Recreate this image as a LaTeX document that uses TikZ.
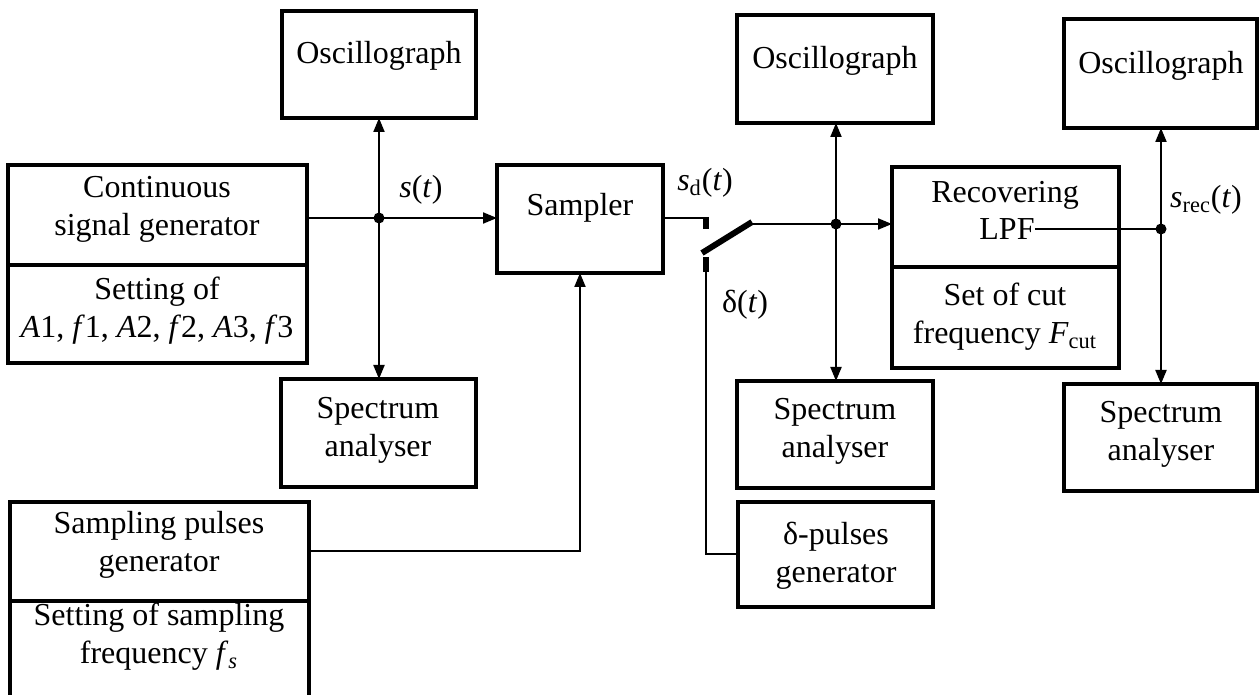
\documentclass[tikz,border=0pt]{standalone}
\usepackage{fontspec}
\setmainfont{Liberation Serif}
\usetikzlibrary{arrows.meta,fit}
\begin{document}
\begin{tikzpicture}[x=0.5pt,y=-0.5pt,
  box/.style={draw,line width=2.2pt,inner sep=0pt,outer sep=0pt},
  lbl/.style={align=center,font=\fontsize{16}{19}\selectfont,inner sep=0pt},
  wire/.style={line width=1pt},
  arr/.style={wire,-{Triangle[length=7pt,width=5.5pt]}},
  dot/.style={circle,fill,inner sep=0pt,minimum size=5.5pt},
  contact/.style={line width=3pt}]
\useasboundingbox (0,0) rectangle (1260,695);
% boxes
\node[box,fit={(282,11) (476,118)}] (osc1) {};
\node[box,fit={(737,15) (933,123)}] (osc2) {};
\node[box,fit={(1064,19) (1257,128)}] (osc3) {};
\node[box,fit={(8,165) (307,265)}] (csg) {};
\node[box,fit={(8,265) (307,363)}] (setA) {};
\node[box,fit={(497,165) (663,273)}] (sampler) {};
\node[box,fit={(892,167) (1119,267)}] (lpf) {};
\node[box,fit={(892,267) (1119,368)}] (fcut) {};
\node[box,fit={(281,379) (476,487)}] (sa1) {};
\node[box,fit={(737,381) (933,488)}] (sa2) {};
\node[box,fit={(1064,384) (1257,491)}] (sa3) {};
\node[box,fit={(738,502) (933,607)}] (delta) {};
\node[box,fit={(10,502) (309,601)}] (spg) {};
\coordinate (spgbl) at (10,695);
\coordinate (spgbr) at (309,695);
\draw[line width=2.2pt] (spg.south west) -- (spgbl);
\draw[line width=2.2pt] (spg.south east) -- (spgbr);
% texts
\node[lbl] (osc1t) at (379,56) {Oscillograph};
\node[lbl] (osc2t) at (835,61) {Oscillograph};
\node[lbl] (osc3t) at (1161,66) {Oscillograph};
\node[lbl] (csgt) at (157,209) {Continuous\\signal generator};
\node[lbl] (setAt) at (157,311) {Setting of\\\textit{A}1, \textit{f}1, \textit{A}2, \textit{f}2, \textit{A}3, \textit{f}3};
\node[lbl] (samplert) at (580,208) {Sampler};
\node[lbl] (lpft1) at (1005,195) {Recovering};
\node[lbl] (lpft2) at (1007,229) {LPF};
\node[lbl] (fcutt) at (1005,317) {Set of cut\\frequency \textit{F}\textsubscript{cut}};
\node[lbl] (sa1t) at (378,430) {Spectrum\\analyser};
\node[lbl] (sa2t) at (835,431) {Spectrum\\analyser};
\node[lbl] (sa3t) at (1161,434) {Spectrum\\analyser};
\node[lbl] (deltat) at (836,556) {δ-pulses\\generator};
\node[lbl] (spgt) at (159,545) {Sampling pulses\\generator};
\node[lbl] (spg2t) at (159,637) {Setting of sampling\\frequency \textit{f}\textsubscript{\textit{s}}};
% signal labels
\node[lbl] (lst) at (421,190) {\textit{s}(\textit{t})};
\node[lbl] (lsdt) at (705,183) {\textit{s}\textsubscript{d}(\textit{t})};
\node[lbl] (ldt) at (745,305) {δ(\textit{t})};
\node[lbl] (lsrt) at (1206,200) {\textit{s}\textsubscript{rec}(\textit{t})};
% junctions
\coordinate (j1) at (379,218);
\coordinate (j2) at (836,224);
\coordinate (j3) at (1161,229);
% first stage
\draw[wire] (csg.east |- j1) -- (j1);
\draw[arr] (j1) -- (sampler.west |- j1);
\draw[arr] (j1) -- (j1 |- osc1.south);
\draw[arr] (j1) -- (j1 |- sa1.north);
\node[dot] (d1) at (j1) {};
% sampler to switch
\coordinate (c1t) at (706,217);
\coordinate (c1b) at (706,229);
\coordinate (bl1) at (702,253);
\coordinate (bl2) at (752,222);
\coordinate (c2t) at (706,257);
\coordinate (c2b) at (706,272);
\coordinate (w2) at (752,224);
\draw[wire] (sampler.east |- 0,218) -- (706,218);
\draw[contact] (c1t) -- (c1b);
\draw[contact] (bl1) -- (bl2);
\draw[contact] (c2t) -- (c2b);
\draw[wire] (c2b) |- (delta.west);
\draw[wire] (w2) -- (j2);
\draw[arr] (j2) -- (lpf.west |- j2);
\draw[arr] (j2) -- (j2 |- osc2.south);
\draw[arr] (j2) -- (j2 |- sa2.north);
\node[dot] (d2) at (j2) {};
% LPF output
\draw[wire] (lpft2.east) -- (lpft2.east -| j3);
\draw[arr] (j3) -- (j3 |- osc3.south);
\draw[arr] (j3) -- (j3 |- sa3.north);
\node[dot] (d3) at (j3) {};
% sampling pulses
\draw[arr] (spg.east) -| (sampler.south);
\end{tikzpicture}
\end{document}
